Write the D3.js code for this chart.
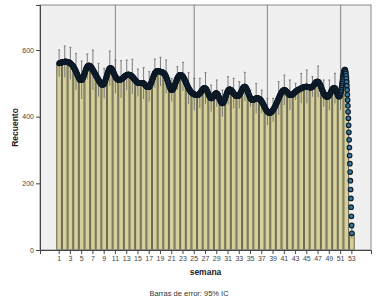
<!DOCTYPE html>
<html>
<head>
<meta charset="utf-8">
<script src="https://cdn.jsdelivr.net/npm/d3@7"></script>
<style>
  body { margin: 0; background: #fff; }
  text { font-family: "Liberation Sans", Arial, sans-serif; }
</style>
</head>
<body>
<script>
// weeks (categories)
var weeks = [1,2,3,4,5,6,7,8,9,10,11,12,13,14,15,16,17,18,19,20,21,22,23,24,25,26,27,
             28,29,30,31,32,33,34,35,36,37,38,39,40,41,42,43,44,45,46,47,48,49,50,51,52,53];
// mean count per week
var means = [560,565,560,535,510,550,540,510,500,545,520,512,525,520,502,500,490,530,535,520,
             480,515,520,485,467,470,485,455,470,440,478,470,465,490,455,455,445,415,420,455,
             480,465,475,485,490,490,505,470,465,485,470,520,50];
// 95% CI upper / lower
var ciHigh = [600,612,608,590,567,588,600,560,545,597,570,568,570,572,543,547,535,573,578,570,
              515,550,563,532,515,515,532,495,510,480,520,515,505,533,480,500,480,455,455,505,
              525,510,500,530,540,520,552,510,510,530,520,540,65];
var ciLow = [520,518,512,480,453,512,480,460,455,493,470,456,480,468,461,453,445,487,492,470,
             445,480,477,438,419,425,438,415,430,400,436,425,425,447,430,410,410,375,385,405,
             435,420,450,440,440,460,458,430,420,440,420,500,35];
// reference lines
var refWeeks = [11, 25, 38, 51];
var yTicks = [0, 200, 400, 600];
var xTicks = [1,3,5,7,9,11,13,15,17,19,21,23,25,27,29,31,33,35,37,39,41,43,45,47,49,51,53];

var w = 378, h = 304;
var pLeft = 40, pRight = 371, pTop = 5, pBottom = 250;

var rows = weeks.map(function(d, i) {
  return { week: d, mean: means[i], hi: ciHigh[i], lo: ciLow[i] };
});

var svg = d3.select("body").append("svg")
  .attr("width", w)
  .attr("height", h);

var x = d3.scaleBand()
  .domain(weeks)
  .range([pLeft, pRight])
  .paddingInner(0)
  .paddingOuter(2.9);

var y = d3.scaleLinear()
  .domain([0, 735])
  .range([pBottom, pTop]);

var bw = x.bandwidth();
function cx(d) { return x(d) + bw / 2; }

// plot background
svg.append("rect")
  .attr("x", pLeft).attr("y", pTop)
  .attr("width", pRight - pLeft).attr("height", pBottom - pTop)
  .attr("fill", "#f0f0f0");

// vertical reference lines
svg.selectAll(".ref")
  .data(refWeeks)
  .enter()
  .append("line")
  .attr("x1", function(d) { return cx(d); })
  .attr("x2", function(d) { return cx(d); })
  .attr("y1", pTop).attr("y2", pBottom)
  .attr("stroke", "#9a9a9a")
  .attr("stroke-width", 1.3);

// bars
svg.selectAll(".bar")
  .data(rows)
  .enter()
  .append("rect")
  .attr("x", function(d) { return cx(d.week) - bw * 0.42; })
  .attr("y", function(d) { return y(d.mean); })
  .attr("width", bw * 0.84)
  .attr("height", function(d) { return pBottom - y(d.mean); })
  .attr("fill", "#d6d19c")
  .attr("stroke", "#6f6c52")
  .attr("stroke-width", 1.1);

// error bars
var eb = svg.append("g").attr("stroke", "#6f6f6f").attr("stroke-width", 0.9);
eb.selectAll(".eb")
  .data(rows)
  .enter()
  .append("line")
  .attr("x1", function(d) { return cx(d.week); })
  .attr("x2", function(d) { return cx(d.week); })
  .attr("y1", function(d) { return y(d.hi); })
  .attr("y2", function(d) { return y(d.lo); });
eb.selectAll(".cap")
  .data(rows)
  .enter()
  .append("line")
  .attr("x1", function(d) { return cx(d.week) - 1; })
  .attr("x2", function(d) { return cx(d.week) + 1; })
  .attr("y1", function(d) { return y(d.hi); })
  .attr("y2", function(d) { return y(d.hi); });

// interpolation line (spline through means), drawn as markers
var lineGen = d3.line()
  .x(function(d) { return cx(d.week); })
  .y(function(d) { return y(d.mean); })
  .curve(d3.curveNatural);

var guide = svg.append("path")
  .attr("d", lineGen(rows))
  .attr("fill", "none")
  .attr("stroke", "none");

var node = guide.node();
var total = node.getTotalLength();
var pts = [];
var nextX = cx(weeks[0]);
for (var l = 0; l <= total; l += 0.1) {
  var p = node.getPointAtLength(l);
  if (p.x >= nextX) {
    pts.push([p.x, p.y]);
    nextX += 0.25;
  }
}
var last = node.getPointAtLength(total);
pts.push([last.x, last.y]);

svg.append("g").selectAll("circle")
  .data(pts)
  .enter()
  .append("circle")
  .attr("cx", function(d) { return d[0]; })
  .attr("cy", function(d) { return d[1]; })
  .attr("r", 2.3)
  .attr("fill", "#3a78a0")
  .attr("stroke", "#0d1926")
  .attr("stroke-width", 1.1);

// frame
svg.append("rect")
  .attr("x", pLeft).attr("y", pTop)
  .attr("width", pRight - pLeft).attr("height", pBottom - pTop)
  .attr("fill", "none")
  .attr("stroke", "#8a8a8a")
  .attr("stroke-width", 1);

// axes
var yAxis = d3.axisLeft(y).tickValues(yTicks).tickSize(4).tickPadding(2);
var gy = svg.append("g")
  .attr("transform", "translate(" + pLeft + ",0)")
  .call(yAxis);
gy.select(".domain").attr("stroke", "#444");
gy.selectAll(".tick line").attr("stroke", "#444");
gy.selectAll("text").attr("font-size", 7).attr("fill", "#444")
  .style("font-family", "Liberation Sans, Arial, sans-serif");

var xAxis = d3.axisBottom(x).tickValues(xTicks).tickSize(4).tickPadding(2);
var gx = svg.append("g")
  .attr("transform", "translate(0," + pBottom + ")")
  .call(xAxis);
gx.select(".domain").attr("stroke", "#444");
gx.selectAll(".tick line").attr("stroke", "#444");
gx.selectAll("text").attr("font-size", 7).attr("fill", "#444")
  .style("font-family", "Liberation Sans, Arial, sans-serif");

// titles
svg.append("text")
  .attr("transform", "translate(18," + ((pTop + pBottom) / 2) + ") rotate(-90)")
  .attr("text-anchor", "middle")
  .attr("font-size", 8.5)
  .attr("font-weight", "bold")
  .attr("fill", "#222")
  .text("Recuento");

svg.append("text")
  .attr("x", (pLeft + pRight) / 2)
  .attr("y", 275)
  .attr("text-anchor", "middle")
  .attr("font-size", 8.5)
  .attr("font-weight", "bold")
  .attr("fill", "#222")
  .text("semana");

svg.append("text")
  .attr("x", w / 2)
  .attr("y", 296)
  .attr("text-anchor", "middle")
  .attr("font-size", 7.5)
  .attr("fill", "#333")
  .text("Barras de error: 95% IC");
</script>
</body>
</html>
